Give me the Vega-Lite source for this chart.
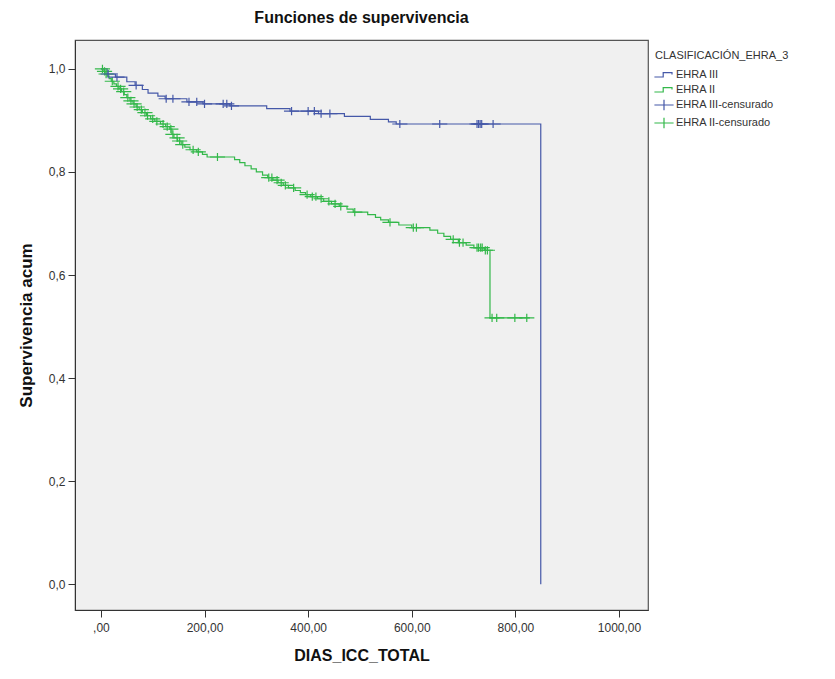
{
  "$schema": "https://vega.github.io/schema/vega-lite/v6.json",
  "width": 573,
  "height": 570,
  "autosize": {"type": "none"},
  "padding": {"left": 75, "top": 40, "right": 187, "bottom": 69},
  "background": "white",
  "config": {
    "font": "Liberation Sans",
    "view": {"fill": "#f0f0f0", "stroke": "#555555", "strokeWidth": 1.2},
    "axis": {"grid": false, "domainColor": "#333333", "tickColor": "#333333", "tickSize": 7, "labelColor": "#333333", "labelFontSize": 12, "titleColor": "#111111", "titleFontWeight": "bold", "titleFontSize": 16},
    "legend": {"orient": "none", "legendX": 580, "legendY": 10, "titleFontSize": 11, "titleFontWeight": "normal", "titleColor": "#333333", "labelFontSize": 11, "labelColor": "#333333", "symbolSize": 256, "symbolStrokeWidth": 1.2, "rowPadding": 1, "titlePadding": 5, "labelOffset": 3}
  },
  "title": {"text": "Funciones de supervivencia", "fontSize": 16, "fontWeight": "bold", "color": "#111111", "anchor": "middle", "offset": 14},
  "datasets": {
    "km": [
      {"serie": "EHRA II", "dias": 0, "surv": 1.0},
      {"serie": "EHRA II", "dias": 4, "surv": 0.995},
      {"serie": "EHRA II", "dias": 8, "surv": 0.99},
      {"serie": "EHRA II", "dias": 12, "surv": 0.986},
      {"serie": "EHRA II", "dias": 16, "surv": 0.981},
      {"serie": "EHRA II", "dias": 20, "surv": 0.976},
      {"serie": "EHRA II", "dias": 25, "surv": 0.971},
      {"serie": "EHRA II", "dias": 30, "surv": 0.966},
      {"serie": "EHRA II", "dias": 35, "surv": 0.961},
      {"serie": "EHRA II", "dias": 40, "surv": 0.956},
      {"serie": "EHRA II", "dias": 45, "surv": 0.95},
      {"serie": "EHRA II", "dias": 50, "surv": 0.944},
      {"serie": "EHRA II", "dias": 56, "surv": 0.938},
      {"serie": "EHRA II", "dias": 62, "surv": 0.932},
      {"serie": "EHRA II", "dias": 68, "surv": 0.926},
      {"serie": "EHRA II", "dias": 74, "surv": 0.921},
      {"serie": "EHRA II", "dias": 80, "surv": 0.915},
      {"serie": "EHRA II", "dias": 88, "surv": 0.909},
      {"serie": "EHRA II", "dias": 96, "surv": 0.903},
      {"serie": "EHRA II", "dias": 104, "surv": 0.898},
      {"serie": "EHRA II", "dias": 115, "surv": 0.893},
      {"serie": "EHRA II", "dias": 125, "surv": 0.888},
      {"serie": "EHRA II", "dias": 133, "surv": 0.883},
      {"serie": "EHRA II", "dias": 137, "surv": 0.873},
      {"serie": "EHRA II", "dias": 141, "surv": 0.866},
      {"serie": "EHRA II", "dias": 148, "surv": 0.86},
      {"serie": "EHRA II", "dias": 155, "surv": 0.853},
      {"serie": "EHRA II", "dias": 162, "surv": 0.848},
      {"serie": "EHRA II", "dias": 172, "surv": 0.843},
      {"serie": "EHRA II", "dias": 185, "surv": 0.839},
      {"serie": "EHRA II", "dias": 196, "surv": 0.834},
      {"serie": "EHRA II", "dias": 205, "surv": 0.829},
      {"serie": "EHRA II", "dias": 258, "surv": 0.824},
      {"serie": "EHRA II", "dias": 268, "surv": 0.818},
      {"serie": "EHRA II", "dias": 278, "surv": 0.812},
      {"serie": "EHRA II", "dias": 290, "surv": 0.806},
      {"serie": "EHRA II", "dias": 300, "surv": 0.8},
      {"serie": "EHRA II", "dias": 312, "surv": 0.794},
      {"serie": "EHRA II", "dias": 322, "surv": 0.789},
      {"serie": "EHRA II", "dias": 332, "surv": 0.784},
      {"serie": "EHRA II", "dias": 342, "surv": 0.779},
      {"serie": "EHRA II", "dias": 352, "surv": 0.774},
      {"serie": "EHRA II", "dias": 362, "surv": 0.769},
      {"serie": "EHRA II", "dias": 375, "surv": 0.764},
      {"serie": "EHRA II", "dias": 385, "surv": 0.76},
      {"serie": "EHRA II", "dias": 395, "surv": 0.756},
      {"serie": "EHRA II", "dias": 405, "surv": 0.752},
      {"serie": "EHRA II", "dias": 418, "surv": 0.748},
      {"serie": "EHRA II", "dias": 430, "surv": 0.743},
      {"serie": "EHRA II", "dias": 445, "surv": 0.738},
      {"serie": "EHRA II", "dias": 460, "surv": 0.733},
      {"serie": "EHRA II", "dias": 475, "surv": 0.728},
      {"serie": "EHRA II", "dias": 487, "surv": 0.722},
      {"serie": "EHRA II", "dias": 515, "surv": 0.717},
      {"serie": "EHRA II", "dias": 530, "surv": 0.712},
      {"serie": "EHRA II", "dias": 540, "surv": 0.707},
      {"serie": "EHRA II", "dias": 555, "surv": 0.702},
      {"serie": "EHRA II", "dias": 575, "surv": 0.697},
      {"serie": "EHRA II", "dias": 600, "surv": 0.692},
      {"serie": "EHRA II", "dias": 635, "surv": 0.687},
      {"serie": "EHRA II", "dias": 650, "surv": 0.681},
      {"serie": "EHRA II", "dias": 662, "surv": 0.675},
      {"serie": "EHRA II", "dias": 675, "surv": 0.669},
      {"serie": "EHRA II", "dias": 690, "surv": 0.663},
      {"serie": "EHRA II", "dias": 705, "surv": 0.658},
      {"serie": "EHRA II", "dias": 720, "surv": 0.653},
      {"serie": "EHRA II", "dias": 740, "surv": 0.648},
      {"serie": "EHRA II", "dias": 751, "surv": 0.517},
      {"serie": "EHRA II", "dias": 828, "surv": 0.517},
      {"serie": "EHRA III", "dias": 0, "surv": 1.0},
      {"serie": "EHRA III", "dias": 12, "surv": 0.99},
      {"serie": "EHRA III", "dias": 28, "surv": 0.984},
      {"serie": "EHRA III", "dias": 50, "surv": 0.975},
      {"serie": "EHRA III", "dias": 66, "surv": 0.968},
      {"serie": "EHRA III", "dias": 80, "surv": 0.96},
      {"serie": "EHRA III", "dias": 91, "surv": 0.953},
      {"serie": "EHRA III", "dias": 110, "surv": 0.947},
      {"serie": "EHRA III", "dias": 124, "surv": 0.942},
      {"serie": "EHRA III", "dias": 166, "surv": 0.936},
      {"serie": "EHRA III", "dias": 197, "surv": 0.932},
      {"serie": "EHRA III", "dias": 249, "surv": 0.928},
      {"serie": "EHRA III", "dias": 320, "surv": 0.923},
      {"serie": "EHRA III", "dias": 365, "surv": 0.918},
      {"serie": "EHRA III", "dias": 420, "surv": 0.913},
      {"serie": "EHRA III", "dias": 470, "surv": 0.908},
      {"serie": "EHRA III", "dias": 520, "surv": 0.902},
      {"serie": "EHRA III", "dias": 555, "surv": 0.897},
      {"serie": "EHRA III", "dias": 570, "surv": 0.893},
      {"serie": "EHRA III", "dias": 849, "surv": 0.0}
    ],
    "cens": [
      {"serie": "EHRA II-censurado", "dias": 3, "surv": 1.0},
      {"serie": "EHRA II-censurado", "dias": 7, "surv": 0.995},
      {"serie": "EHRA II-censurado", "dias": 10, "surv": 0.99},
      {"serie": "EHRA II-censurado", "dias": 22, "surv": 0.976},
      {"serie": "EHRA II-censurado", "dias": 33, "surv": 0.966},
      {"serie": "EHRA II-censurado", "dias": 38, "surv": 0.961},
      {"serie": "EHRA II-censurado", "dias": 44, "surv": 0.956},
      {"serie": "EHRA II-censurado", "dias": 52, "surv": 0.944},
      {"serie": "EHRA II-censurado", "dias": 58, "surv": 0.938},
      {"serie": "EHRA II-censurado", "dias": 64, "surv": 0.932},
      {"serie": "EHRA II-censurado", "dias": 70, "surv": 0.926},
      {"serie": "EHRA II-censurado", "dias": 78, "surv": 0.921},
      {"serie": "EHRA II-censurado", "dias": 85, "surv": 0.915},
      {"serie": "EHRA II-censurado", "dias": 90, "surv": 0.909},
      {"serie": "EHRA II-censurado", "dias": 100, "surv": 0.903},
      {"serie": "EHRA II-censurado", "dias": 108, "surv": 0.898},
      {"serie": "EHRA II-censurado", "dias": 120, "surv": 0.893},
      {"serie": "EHRA II-censurado", "dias": 128, "surv": 0.888},
      {"serie": "EHRA II-censurado", "dias": 135, "surv": 0.883},
      {"serie": "EHRA II-censurado", "dias": 139, "surv": 0.873},
      {"serie": "EHRA II-censurado", "dias": 147, "surv": 0.866},
      {"serie": "EHRA II-censurado", "dias": 152, "surv": 0.86},
      {"serie": "EHRA II-censurado", "dias": 158, "surv": 0.853},
      {"serie": "EHRA II-censurado", "dias": 178, "surv": 0.843},
      {"serie": "EHRA II-censurado", "dias": 188, "surv": 0.839},
      {"serie": "EHRA II-censurado", "dias": 225, "surv": 0.829},
      {"serie": "EHRA II-censurado", "dias": 324, "surv": 0.789},
      {"serie": "EHRA II-censurado", "dias": 330, "surv": 0.789},
      {"serie": "EHRA II-censurado", "dias": 340, "surv": 0.784},
      {"serie": "EHRA II-censurado", "dias": 348, "surv": 0.779},
      {"serie": "EHRA II-censurado", "dias": 356, "surv": 0.774},
      {"serie": "EHRA II-censurado", "dias": 372, "surv": 0.769},
      {"serie": "EHRA II-censurado", "dias": 398, "surv": 0.756},
      {"serie": "EHRA II-censurado", "dias": 408, "surv": 0.752},
      {"serie": "EHRA II-censurado", "dias": 415, "surv": 0.752},
      {"serie": "EHRA II-censurado", "dias": 425, "surv": 0.748},
      {"serie": "EHRA II-censurado", "dias": 440, "surv": 0.743},
      {"serie": "EHRA II-censurado", "dias": 452, "surv": 0.738},
      {"serie": "EHRA II-censurado", "dias": 463, "surv": 0.733},
      {"serie": "EHRA II-censurado", "dias": 490, "surv": 0.722},
      {"serie": "EHRA II-censurado", "dias": 558, "surv": 0.702},
      {"serie": "EHRA II-censurado", "dias": 603, "surv": 0.692},
      {"serie": "EHRA II-censurado", "dias": 609, "surv": 0.692},
      {"serie": "EHRA II-censurado", "dias": 680, "surv": 0.669},
      {"serie": "EHRA II-censurado", "dias": 692, "surv": 0.663},
      {"serie": "EHRA II-censurado", "dias": 699, "surv": 0.663},
      {"serie": "EHRA II-censurado", "dias": 726, "surv": 0.653},
      {"serie": "EHRA II-censurado", "dias": 729, "surv": 0.653},
      {"serie": "EHRA II-censurado", "dias": 733, "surv": 0.653},
      {"serie": "EHRA II-censurado", "dias": 736, "surv": 0.653},
      {"serie": "EHRA II-censurado", "dias": 742, "surv": 0.648},
      {"serie": "EHRA II-censurado", "dias": 746, "surv": 0.648},
      {"serie": "EHRA II-censurado", "dias": 755, "surv": 0.517},
      {"serie": "EHRA II-censurado", "dias": 764, "surv": 0.517},
      {"serie": "EHRA II-censurado", "dias": 799, "surv": 0.517},
      {"serie": "EHRA II-censurado", "dias": 822, "surv": 0.517},
      {"serie": "EHRA III-censurado", "dias": 14, "surv": 0.99},
      {"serie": "EHRA III-censurado", "dias": 31, "surv": 0.984},
      {"serie": "EHRA III-censurado", "dias": 68, "surv": 0.968},
      {"serie": "EHRA III-censurado", "dias": 126, "surv": 0.942},
      {"serie": "EHRA III-censurado", "dias": 139, "surv": 0.942},
      {"serie": "EHRA III-censurado", "dias": 170, "surv": 0.936},
      {"serie": "EHRA III-censurado", "dias": 185, "surv": 0.936},
      {"serie": "EHRA III-censurado", "dias": 200, "surv": 0.932},
      {"serie": "EHRA III-censurado", "dias": 236, "surv": 0.932},
      {"serie": "EHRA III-censurado", "dias": 243, "surv": 0.932},
      {"serie": "EHRA III-censurado", "dias": 252, "surv": 0.928},
      {"serie": "EHRA III-censurado", "dias": 368, "surv": 0.918},
      {"serie": "EHRA III-censurado", "dias": 400, "surv": 0.918},
      {"serie": "EHRA III-censurado", "dias": 412, "surv": 0.918},
      {"serie": "EHRA III-censurado", "dias": 425, "surv": 0.913},
      {"serie": "EHRA III-censurado", "dias": 442, "surv": 0.913},
      {"serie": "EHRA III-censurado", "dias": 577, "surv": 0.893},
      {"serie": "EHRA III-censurado", "dias": 654, "surv": 0.893},
      {"serie": "EHRA III-censurado", "dias": 726, "surv": 0.893},
      {"serie": "EHRA III-censurado", "dias": 729, "surv": 0.893},
      {"serie": "EHRA III-censurado", "dias": 732, "surv": 0.893},
      {"serie": "EHRA III-censurado", "dias": 735, "surv": 0.893},
      {"serie": "EHRA III-censurado", "dias": 757, "surv": 0.893}
    ]
  },
  "layer": [
    {
      "data": {"name": "km"},
      "mark": {"type": "line", "interpolate": "step-after", "strokeWidth": 1.2},
      "encoding": {
        "x": {"field": "dias", "type": "quantitative", "scale": {"domain": [-50, 1056], "nice": false, "zero": false},
          "axis": {"title": "DIAS_ICC_TOTAL", "values": [0, 200, 400, 600, 800, 1000], "labelExpr": "datum.value == 0 ? ',00' : replace(format(datum.value, '.2f'), '.', ',')", "labelPadding": 5, "titlePadding": 14}},
        "y": {"field": "surv", "type": "quantitative", "scale": {"domain": [-0.05, 1.056], "nice": false, "zero": false},
          "axis": {"title": "Supervivencia acum", "values": [0, 0.2, 0.4, 0.6, 0.8, 1.0], "labelExpr": "replace(format(datum.value, '.1f'), '.', ',')", "labelPadding": 3, "titlePadding": 13, "titleFontSize": 17}},
        "color": {"field": "serie", "type": "nominal",
          "scale": {"domain": ["EHRA III", "EHRA II", "EHRA III-censurado", "EHRA II-censurado"], "range": ["#4558a8", "#33b84a", "#4558a8", "#33b84a"]},
          "legend": {"title": "CLASIFICACIÓN_EHRA_3"}}
      }
    },
    {
      "data": {"name": "cens"},
      "mark": {"type": "point", "filled": false, "strokeWidth": 1.2, "size": 160, "opacity": 1},
      "encoding": {
        "x": {"field": "dias", "type": "quantitative"},
        "y": {"field": "surv", "type": "quantitative"},
        "color": {"field": "serie", "type": "nominal"},
        "shape": {"field": "serie", "type": "nominal",
          "scale": {"domain": ["EHRA III", "EHRA II", "EHRA III-censurado", "EHRA II-censurado"], "range": ["M-1.2,0.25H-0.1V-0.3H1V-0.05", "M-1.2,0.25H-0.1V-0.3H1V-0.05", "M0,-0.65V0.65M-1.2,0H1.2", "M0,-0.65V0.65M-1.2,0H1.2"]},
          "legend": {"title": "CLASIFICACIÓN_EHRA_3"}}
      }
    }
  ]
}
